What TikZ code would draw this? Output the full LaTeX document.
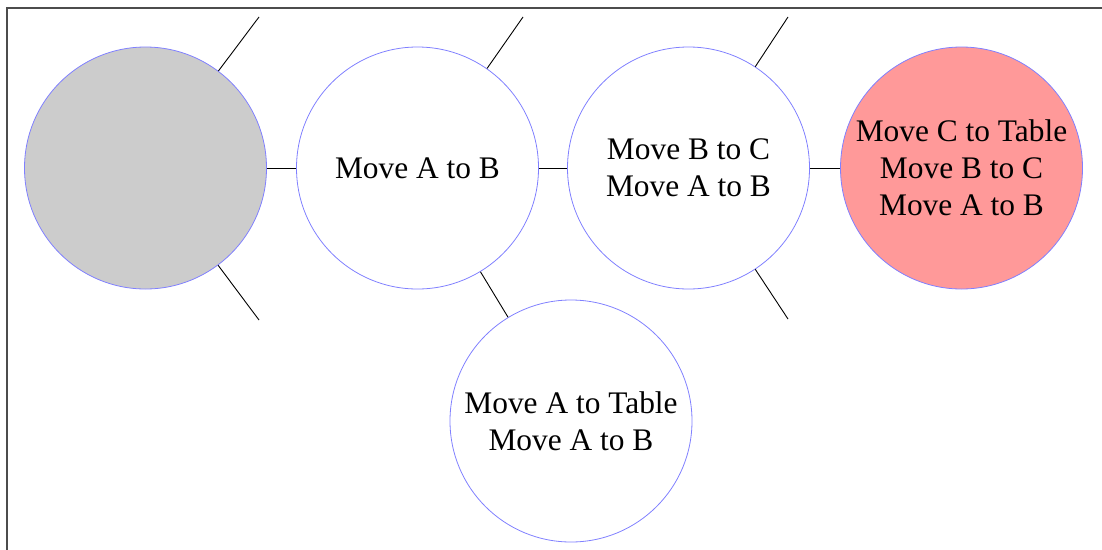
\documentclass[tikz,border=0pt]{standalone}
\usepackage{fontspec}
\setmainfont{Liberation Serif}
\begin{document}
\begin{tikzpicture}[x=1pt,y=-1pt,
  state/.style={circle,draw=blue!50,line width=0.8pt,minimum size=242pt,inner sep=0pt,
    align=center,font=\fontsize{31.4}{37}\selectfont},
  edge/.style={draw=black,line width=0.9pt}]
\useasboundingbox (0,0) rectangle (1102,549);
\draw[black!70,line width=1.3pt] (7,600) -- (7,8) -- (1150,8);
\node[state,fill=black!20] (s0) at (145.5,168) {};
\node[state] (s1) at (417.5,168) {Move A to B};
\node[state] (s2) at (688.5,168) {Move B to C\\Move A to B};
\node[state,fill=red!40] (s3) at (961.5,168) {Move C to Table\\Move B to C\\Move A to B};
\node[state] (s4) at (571,421) {Move A to Table\\Move A to B};
\coordinate (u0) at (259,17);
\coordinate (d0) at (259,320);
\coordinate (u1) at (523,17);
\coordinate (u2) at (788,17);
\coordinate (d2) at (788,319);
\draw[edge] (s0) -- (s1);
\draw[edge] (s1) -- (s2);
\draw[edge] (s2) -- (s3);
\draw[edge] (s1) -- (s4);
\draw[edge] (s0) -- (u0);
\draw[edge] (s0) -- (d0);
\draw[edge] (s1) -- (u1);
\draw[edge] (s2) -- (u2);
\draw[edge] (s2) -- (d2);
\end{tikzpicture}
\end{document}
